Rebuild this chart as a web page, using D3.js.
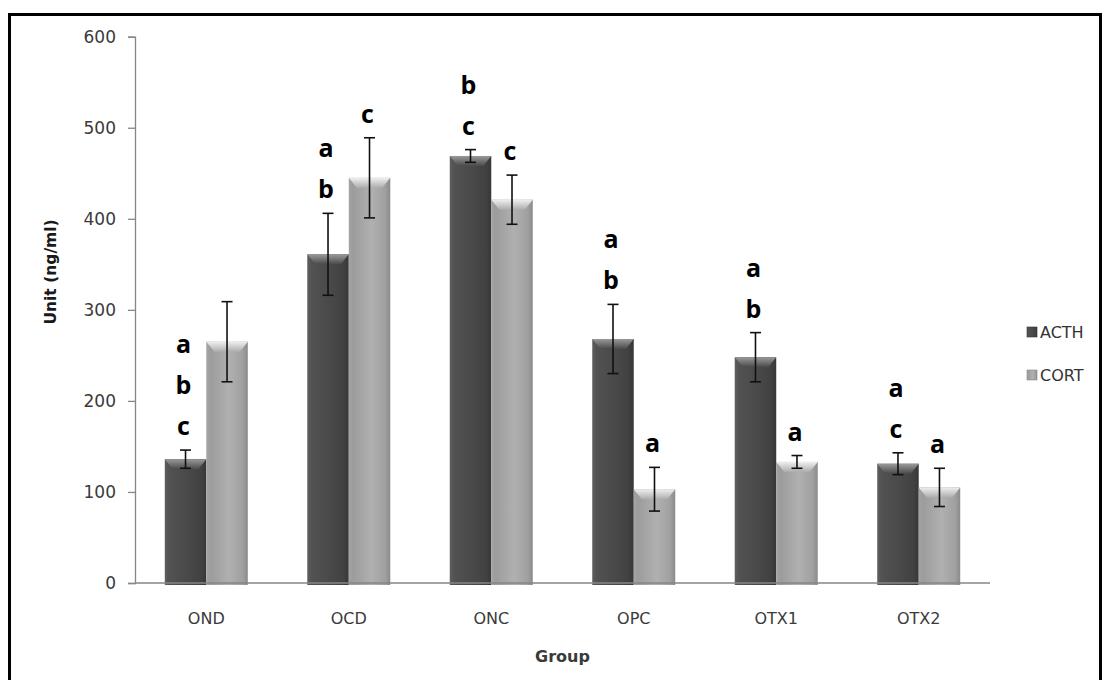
<!DOCTYPE html>
<html>
<head>
<meta charset="utf-8">
<script src="https://cdn.jsdelivr.net/npm/d3@7"></script>
<style>
  body { margin: 0; background: #fff; }
  text { font-family: "DejaVu Sans", Verdana, sans-serif; }
</style>
</head>
<body>
<svg width="1107" height="680"></svg>
<script>
var groups = ["OND", "OCD", "ONC", "OPC", "OTX1", "OTX2"];
var seriesNames = ["ACTH", "CORT"];
var acthValues = [136, 361, 469, 268, 248, 131];
var acthErrors = [10, 45, 7, 38, 27, 12];
var cortValues = [265, 445, 421, 103, 133, 105];
var cortErrors = [44, 44, 27, 24, 7, 21];
var acthLetters = [["a", "b", "c"], ["a", "b"], ["b", "c"], ["a", "b"], ["a", "b"], ["a", "c"]];
var cortLetters = [[], ["c"], ["c"], ["a"], ["a"], ["a"]];
var yTicks = [0, 100, 200, 300, 400, 500, 600];

var svg = d3.select('svg');
var axisColor = '#868686';

var plot = {l: 135, r: 990, t: 36.7, b: 583};

// flatten into rows for the bars
var rows = [];
groups.forEach(function(g, i) {
    rows.push({group: g, series: "ACTH", value: acthValues[i], err: acthErrors[i], letters: acthLetters[i]});
    rows.push({group: g, series: "CORT", value: cortValues[i], err: cortErrors[i], letters: cortLetters[i]});
});

var x0 = d3.scaleBand().domain(groups).range([plot.l, plot.r]).paddingInner(0.4175).paddingOuter(0.209);
var x1 = d3.scaleBand().domain(seriesNames).range([0, x0.bandwidth()]);
var y = d3.scaleLinear().domain([0, 600]).range([plot.b, plot.t]);

// gradients for the bevelled bars
var defs = svg.append('defs');
function barGradient(id, stops) {
    var g = defs.append('linearGradient').attr('id', id).attr('x1', '0%').attr('x2', '100%');
    stops.forEach(function(s) {
        g.append('stop').attr('offset', s[0]).attr('stop-color', s[1]);
    });
}
barGradient('gActh', [['0%', '#5e5e5e'], ['10%', '#525252'], ['55%', '#494949'], ['88%', '#414141'], ['100%', '#363636']]);
barGradient('gCort', [['0%', '#a4a4a4'], ['10%', '#9c9c9c'], ['55%', '#b0b0b0'], ['88%', '#a0a0a0'], ['100%', '#8a8a8a']]);
function topGradient(id, c0, c1) {
    var g = defs.append('linearGradient').attr('id', id).attr('x1', '0').attr('x2', '0').attr('y1', '0').attr('y2', '1');
    g.append('stop').attr('offset', '0%').attr('stop-color', c0);
    g.append('stop').attr('offset', '100%').attr('stop-color', c1);
}
topGradient('tActh', '#9a9a9a', '#4a4a4a');
topGradient('tCort', '#efefef', '#adadad');

// outer frame
svg.append('rect')
    .attr('x', 9.5).attr('y', 14.5)
    .attr('width', 1091).attr('height', 720)
    .attr('fill', 'none')
    .attr('stroke', '#000')
    .attr('stroke-width', 3);

// y axis
var yAxis = svg.append('g')
    .attr('transform', 'translate(' + plot.l + ',0)')
    .call(d3.axisLeft(y).tickValues(yTicks).tickSize(7).tickPadding(12));
yAxis.select('.domain').attr('stroke', axisColor).attr('stroke-width', 1.3);
yAxis.selectAll('.tick line').attr('stroke', axisColor).attr('stroke-width', 1.3);
yAxis.selectAll('.tick text')
    .attr('fill', '#3a3a3a')
    .style('font-size', '17px');

// bars
var bars = svg.append('g');
bars.selectAll('rect.bar')
    .data(rows)
    .join('rect')
    .attr('class', 'bar')
    .attr('x', d => x0(d.group) + x1(d.series))
    .attr('y', d => y(d.value))
    .attr('width', x1.bandwidth())
    .attr('height', d => y(0) - y(d.value) + 2)
    .attr('fill', d => d.series === 'ACTH' ? 'url(#gActh)' : 'url(#gCort)');

// bevel on top of each bar
bars.selectAll('path.bevel')
    .data(rows)
    .join('path')
    .attr('class', 'bevel')
    .attr('d', function(d) {
        var xl = x0(d.group) + x1(d.series), w = x1.bandwidth(), yt = y(d.value);
        return 'M' + xl + ',' + yt + 'L' + (xl + w) + ',' + yt +
            'L' + (xl + w - 8) + ',' + (yt + 10) + 'L' + (xl + 8) + ',' + (yt + 10) + 'Z';
    })
    .attr('fill', d => d.series === 'ACTH' ? 'url(#tActh)' : 'url(#tCort)');

// x axis line
svg.append('line')
    .attr('x1', plot.l).attr('x2', plot.r)
    .attr('y1', y(0)).attr('y2', y(0))
    .attr('stroke', axisColor)
    .attr('stroke-width', 1.3);

// error bars
var errG = svg.append('g').attr('stroke', '#111').attr('stroke-width', 1.6);
rows.forEach(function(d) {
    var cx = x0(d.group) + x1(d.series) + x1.bandwidth() / 2;
    var yTop = y(d.value + d.err), yBot = y(d.value - d.err);
    errG.append('line').attr('x1', cx).attr('x2', cx).attr('y1', yTop).attr('y2', yBot);
    errG.append('line').attr('x1', cx - 5.5).attr('x2', cx + 5.5).attr('y1', yTop).attr('y2', yTop);
    errG.append('line').attr('x1', cx - 5.5).attr('x2', cx + 5.5).attr('y1', yBot).attr('y2', yBot);
});

// significance letters stacked above the error bars
var letterG = svg.append('g');
rows.forEach(function(d) {
    var cx = x0(d.group) + x1(d.series) + x1.bandwidth() / 2;
    var base = y(d.value + d.err) - 25;
    var n = d.letters.length;
    d.letters.forEach(function(l, j) {
        letterG.append('text')
            .attr('x', cx - 2)
            .attr('y', base - (n - 1 - j) * 41)
            .attr('text-anchor', 'middle')
            .attr('dominant-baseline', 'central')
            .style('font-family', '"Open Sans", "DejaVu Sans", sans-serif')
            .style('font-weight', 'bold')
            .style('font-size', '25px')
            .attr('fill', '#000')
            .text(l);
    });
});

// category labels
svg.selectAll('text.cat')
    .data(groups)
    .join('text')
    .attr('class', 'cat')
    .attr('x', d => x0(d) + x0.bandwidth() / 2)
    .attr('y', 618)
    .attr('text-anchor', 'middle')
    .attr('dominant-baseline', 'central')
    .attr('fill', '#3a3a3a')
    .style('font-size', '16px')
    .text(d => d);

// axis titles
svg.append('text')
    .attr('x', (plot.l + plot.r) / 2)
    .attr('y', 656)
    .attr('text-anchor', 'middle')
    .attr('dominant-baseline', 'central')
    .attr('fill', '#3a3a3a')
    .style('font-size', '16px')
    .style('font-weight', 'bold')
    .text('Group');

svg.append('text')
    .attr('transform', 'translate(51,272) rotate(-90)')
    .attr('text-anchor', 'middle')
    .attr('dominant-baseline', 'central')
    .attr('fill', '#1a1a1a')
    .style('font-size', '15.5px')
    .style('font-weight', 'bold')
    .text('Unit (ng/ml)');

// legend
var legend = svg.append('g').attr('transform', 'translate(1027,332)');
legend.selectAll('rect')
    .data(seriesNames)
    .join('rect')
    .attr('x', 0)
    .attr('y', (d, i) => i * 43 - 5)
    .attr('width', 10)
    .attr('height', 10)
    .attr('fill', d => d === 'ACTH' ? 'url(#gActh)' : 'url(#gCort)')
    .attr('stroke', d => d === 'ACTH' ? '#333' : '#888')
    .attr('stroke-width', 0.6);
legend.selectAll('text')
    .data(seriesNames)
    .join('text')
    .attr('x', 13)
    .attr('y', (d, i) => i * 43)
    .attr('dominant-baseline', 'central')
    .attr('fill', '#333')
    .style('font-size', '16px')
    .text(d => d);
</script>
</body>
</html>
